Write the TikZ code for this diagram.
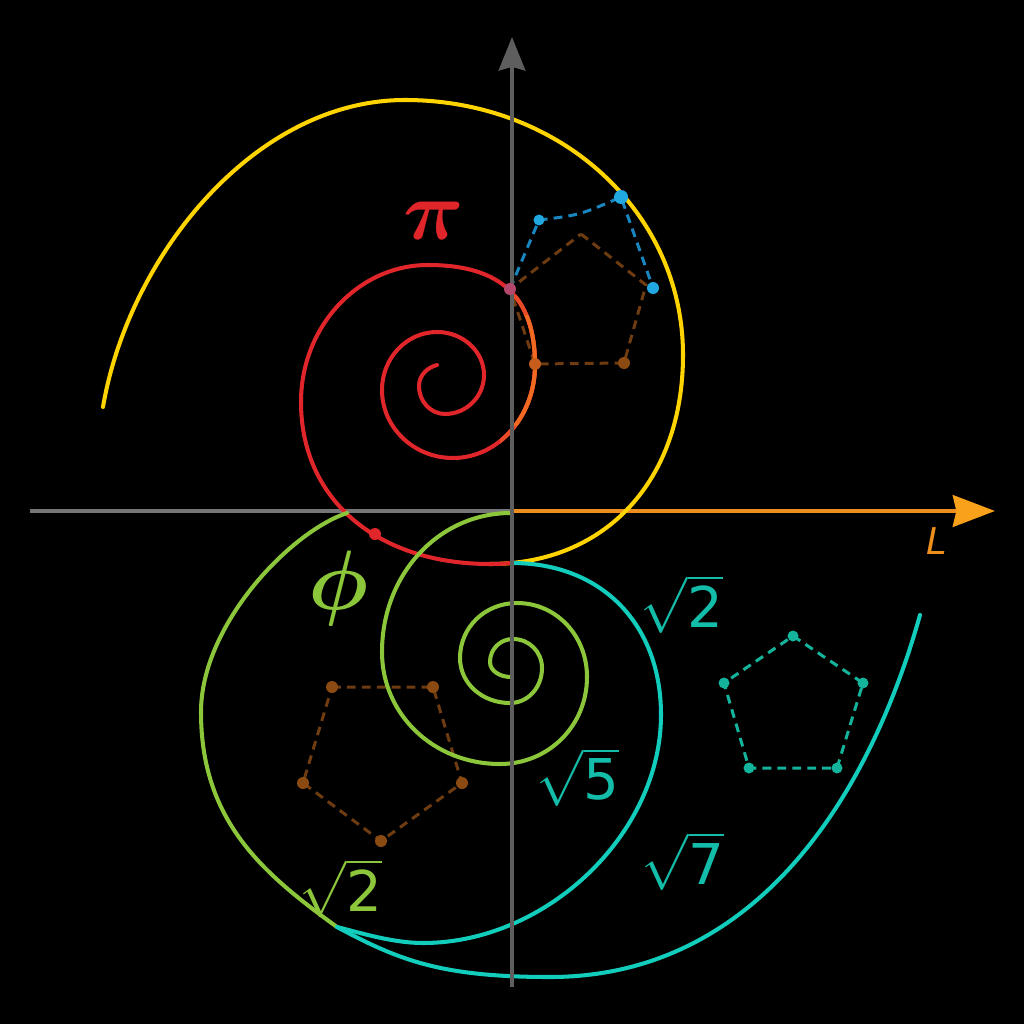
\RequirePackage{fix-cm}
\documentclass[tikz,border=0pt]{standalone}
\usepackage{bm}
\usepackage{fontspec}
\usetikzlibrary{arrows.meta}
\newfontfamily\digitfont{DejaVu Sans}
\definecolor{spiralred}{HTML}{E0262A}
\definecolor{spiralorange}{HTML}{F06A22}
\definecolor{spiralyellow}{HTML}{FFD400}
\definecolor{spiralgreen}{HTML}{8CC63A}
\definecolor{spiralcyan}{HTML}{12CDBB}
\definecolor{textcyan}{HTML}{14BDA9}
\definecolor{axisgray}{HTML}{5E5E5E}
\definecolor{axisorange}{HTML}{EE8E1C}
\definecolor{headorange}{HTML}{F9A11B}
\definecolor{pentbrown}{HTML}{6E3C10}
\definecolor{dotbrown}{HTML}{8A4A12}
\definecolor{pentblue}{HTML}{1A86C0}
\definecolor{dotblue}{HTML}{22A8E0}
\definecolor{pentteal}{HTML}{14B49C}
\definecolor{dotpink}{HTML}{B4476C}

\newcommand\pipath{(437,365) .. controls (429,367) and (419,374) .. (419,386)
  .. controls (419,401.5) and (430.6,414) .. (445,414)
  .. controls (466.5,414) and (484,396.5) .. (484,375)
  .. controls (484,351.3) and (462.9,332) .. (437,332)
  .. controls (406.6,332) and (382,358) .. (382,390)
  .. controls (382,427.5) and (413.8,458) .. (453,458)
  .. controls (498.3,458) and (535,416.3) .. (535,365)
  .. controls (535,297) and (500.8,265) .. (428,265)
  .. controls (358.2,265) and (301,326.6) .. (301,402)
  .. controls (301,499.2) and (376.6,564) .. (490,564)}
\newcommand\goldpath{(490,564) .. controls (605.8,564) and (683,480.4) .. (683,355)
  .. controls (683,212.2) and (560.7,100) .. (405,100)
  .. controls (254,100) and (128.5,257) .. (103,407)}

\begin{document}
\begin{tikzpicture}[x=0.02cm, y=-0.02cm,
    spiral/.style={line width=2.3pt, line cap=round},
    axis/.style={line width=2.6pt, draw=axisgray},
    pent/.style={line width=1.7pt, dash pattern=on 5pt off 3.5pt},
    numtext/.style={inner sep=0pt, font=\fontsize{32}{38}\selectfont},
    greek/.style={inner sep=0pt, font=\fontsize{48}{54}\selectfont}
]
\fill[black] (0,0) rectangle (1024,1024);
\useasboundingbox (0,0) rectangle (1024,1024);

\coordinate (o) at (512,511);
\coordinate (xl) at (30,511);
\coordinate (xr) at (995,511);
\coordinate (yb) at (512,987);
\coordinate (yt) at (512,37);

\coordinate (bt1) at (581,234);
\coordinate (bt2) at (646,285);
\coordinate (bt3) at (624,363);
\coordinate (bt4) at (535,364);
\coordinate (bt5) at (510,289);
\coordinate (bl1) at (539,220);
\coordinate (bl2) at (621,197);
\coordinate (bl3) at (653,288);
\coordinate (lb1) at (332,687);
\coordinate (lb2) at (433,687);
\coordinate (lb3) at (462,783);
\coordinate (lb4) at (381,841);
\coordinate (lb5) at (303,783);
\coordinate (tp1) at (793,636);
\coordinate (tp2) at (863,683);
\coordinate (tp3) at (837,768);
\coordinate (tp4) at (749,768);
\coordinate (tp5) at (724,683);
\coordinate (rd) at (375,534);

\draw[pent, draw=pentbrown] (bt1) -- (bt2) -- (bt3) -- (bt4) -- (bt5) -- cycle;
\draw[pent, draw=pentblue] (bt5) -- (bl1) .. controls (580,215) .. (bl2) -- (bl3);
\draw[pent, draw=pentbrown] (lb1) -- (lb2) -- (lb3) -- (lb4) -- (lb5) -- cycle;
\draw[pent, draw=pentteal] (tp1) -- (tp2) -- (tp3) -- (tp4) -- (tp5) -- cycle;

\draw[line width=2.3pt, draw=axisorange, -{Stealth[length=24pt, width=18pt, inset=2pt, color=headorange, fill=headorange]}] (o) -- (xr);
\draw[axis, draw=axisgray!85!white] (xl) -- (o);

\draw[spiral, draw=spiralyellow] \goldpath;
\begin{scope}
  \clip (470,545) rectangle (512,585);
  \draw[spiral, draw=spiralred] \goldpath;
\end{scope}
\draw[spiral, draw=spiralred] \pipath;
\begin{scope}
  \clip (500,295) rectangle (560,445);
  \draw[spiral, draw=spiralred!45!spiralorange] \pipath;
\end{scope}
\begin{scope}
  \clip (500,315) rectangle (560,425);
  \draw[spiral, draw=spiralorange] \pipath;
\end{scope}

\draw[spiral, draw=spiralgreen] (511,677) .. controls (500,677) and (490,671) .. (490,662)
  .. controls (490,649.1) and (500.1,639) .. (513,639)
  .. controls (529.2,639) and (542,651.8) .. (542,668)
  .. controls (542,687.6) and (527.9,703) .. (510,703)
  .. controls (482,703) and (460,683.2) .. (460,658)
  .. controls (460,627.2) and (485.1,603) .. (517,603)
  .. controls (556.2,603) and (587,635.6) .. (587,677)
  .. controls (587,725.7) and (548.7,764) .. (500,764)
  .. controls (433.9,764) and (382,714.7) .. (382,652)
  .. controls (382,574.2) and (438.8,513) .. (511,513);
\draw[spiral, draw=spiralgreen] (347,513) .. controls (290,532) and (201,625) .. (201,712)
  .. controls (201,822) and (264,874) .. (337,927);
\draw[spiral, draw=spiralcyan] (512,563) .. controls (601.4,563) and (661,623.8) .. (661,715)
  .. controls (661,833.6) and (546.8,943) .. (423,943)
  .. controls (393,943) and (361,933) .. (337,927);
\draw[spiral, draw=spiralcyan] (337,927) .. controls (398.6,960) and (440,977) .. (550,977)
  .. controls (750,977) and (866,807) .. (920,615);

\draw[axis, -{Stealth[length=19pt, width=15pt, inset=2pt]}] (yb) -- (yt);

\fill[dotbrown] (bt3) circle (6);
\fill[spiralorange!60!dotbrown] (bt4) circle (6);
\fill[dotpink] (bt5) circle (6);
\fill[dotblue] (bl1) circle (5.5);
\fill[dotblue] (bl2) circle (7);
\fill[dotblue] (bl3) circle (6);
\foreach \v in {lb1,lb2,lb3,lb4,lb5} \fill[dotbrown] (\v) circle (6);
\foreach \v in {tp1,tp2,tp3,tp4,tp5} \fill[pentteal] (\v) circle (5.5);
\fill[spiralred] (rd) circle (6);

\node[greek, text=spiralred] (pi) at (434,221) {$\bm{\pi}$};
\node[greek, text=spiralgreen] (phi) at (339,588) {$\bm{\phi}$};
\node[numtext, text=textcyan] (rtwo) at (682,604) {$\sqrt{\mbox{\digitfont 2}}$};
\node[numtext, text=textcyan] (rfive) at (578,777) {$\sqrt{\mbox{\digitfont 5}}$};
\node[numtext, text=textcyan] (rseven) at (683,861) {$\sqrt{\mbox{\digitfont 7}}$};
\node[numtext, text=spiralgreen] (gtwo) at (341,888) {$\sqrt{\mbox{\digitfont 2}}$};
\node[inner sep=0pt, font=\fontsize{21}{24}\selectfont\digitfont\itshape, text=axisorange] (ell) at (937,541) {L};
\end{tikzpicture}
\end{document}
